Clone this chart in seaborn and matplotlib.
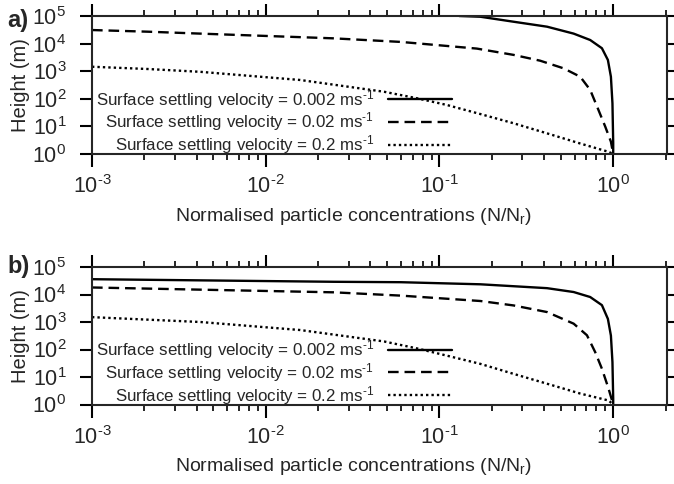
import numpy as np
import pandas as pd
import matplotlib
matplotlib.use("Agg")
import matplotlib.pyplot as plt
from matplotlib.ticker import LogLocator, FuncFormatter, NullLocator
import seaborn as sns

# ---- data: normalised concentration (N/Nr) vs height (m) ----
# panel a
conc_a_slow = [0.13, 0.172, 0.267, 0.416, 0.592, 0.737, 0.861, 0.932, 0.97, 0.99, 1.0, 1.0]
height_a_slow = [1.0e5, 9.4e4, 6.2e4, 4.1e4, 2.3e4, 1.35e4, 6.8e3, 2.55e3, 6.3e2, 69, 2.5, 1.0]

conc_a_mid = [0.001, 0.0021, 0.0042, 0.0246, 0.06, 0.164, 0.267, 0.38, 0.518, 0.646,
              0.737, 0.823, 0.90, 0.97, 1.0]
height_a_mid = [3.1e4, 2.7e4, 2.3e4, 1.55e4, 1.15e4, 6.6e3, 3.9e3, 2.4e3, 1.27e3, 6.3e2,
                2.1e2, 39, 9.8, 2.8, 1.0]

conc_a_fast = [0.001, 0.0021, 0.0042, 0.0158, 0.048, 0.074, 0.11, 0.172, 0.267, 0.416,
               0.646, 0.94, 1.0]
height_a_fast = [1.45e3, 1.2e3, 9.5e2, 4.8e2, 1.8e2, 1.05e2, 60, 28, 13, 5.6,
                 2.4, 1.2, 1.0]

# panel b
conc_b_slow = [0.001, 0.0246, 0.06, 0.172, 0.267, 0.416, 0.592, 0.737, 0.861, 0.932,
               0.97, 0.99, 1.0, 1.0]
height_b_slow = [3.6e4, 2.9e4, 2.8e4, 2.35e4, 2.0e4, 1.7e4, 1.23e4, 8.1e3, 4.1e3, 1.3e3,
                 3.2e2, 35, 1.6, 1.0]

conc_b_mid = [0.001, 0.0042, 0.0246, 0.06, 0.172, 0.267, 0.416, 0.592, 0.706, 0.787,
              0.861, 0.94, 1.0]
height_b_mid = [1.8e4, 1.5e4, 1.2e4, 9.1e3, 5.8e3, 4.0e3, 2.3e3, 8.7e2, 3.3e2, 81,
                20, 3.8, 1.0]

conc_b_fast = [0.001, 0.0042, 0.0158, 0.048, 0.074, 0.11, 0.172, 0.267, 0.416, 0.646,
               0.94, 1.0]
height_b_fast = [1.5e3, 1.0e3, 5.1e2, 1.96e2, 1.1e2, 60, 30, 13, 5.7, 2.5, 1.4, 1.0]

series_labels = [
    r"Surface settling velocity = 0.002 ms$\mathregular{^{\text{-}1}}$",
    r"Surface settling velocity = 0.02 ms$\mathregular{^{\text{-}1}}$",
    r"Surface settling velocity = 0.2 ms$\mathregular{^{\text{-}1}}$",
]
panel_tags = ["a)", "b)"]
x_label = r"Normalised particle concentrations (N/N$\mathregular{_r}$)"
y_label = "Height (m)"

# ---- style ----
sns.set_style("ticks")
plt.rcParams["font.family"] = ["Liberation Sans", "DejaVu Sans"]
plt.rcParams["mathtext.fontset"] = "custom"
plt.rcParams["mathtext.rm"] = "Liberation Sans"
plt.rcParams["mathtext.it"] = "Liberation Sans:italic"
plt.rcParams["mathtext.bf"] = "Liberation Sans:bold"
plt.rcParams["axes.linewidth"] = 1.5

line_styles = ["-", (0, (4.5, 2.5)), (0, (1.0, 1.3))]

fig = plt.figure(figsize=(6.74, 4.84), dpi=100)
ax_a = fig.add_axes([92 / 674, 1 - 154 / 484, 575 / 674, 138 / 484])
ax_b = fig.add_axes([92 / 674, 1 - 404.5 / 484, 575 / 674, 137.5 / 484])

panels = [
    (ax_a, [(conc_a_slow, height_a_slow), (conc_a_mid, height_a_mid), (conc_a_fast, height_a_fast)]),
    (ax_b, [(conc_b_slow, height_b_slow), (conc_b_mid, height_b_mid), (conc_b_fast, height_b_fast)]),
]


def pow_label(v, pos):
    e = int(round(np.log10(v)))
    if e < 0:
        return r"$\mathregular{10^{\text{-}%d}}$" % (-e)
    return r"$\mathregular{10^{%d}}$" % e


pow_fmt = FuncFormatter(pow_label)

for (ax, curves), tag in zip(panels, panel_tags):
    for (xs, ys), ls, lab in zip(curves, line_styles, series_labels):
        df = pd.DataFrame({"conc": xs, "height": ys})
        sns.lineplot(data=df, x="conc", y="height", ax=ax, color="black",
                     linestyle=ls, linewidth=1.7, estimator=None, sort=False,
                     label=lab)
    ax.set_xscale("log")
    ax.set_yscale("log")
    ax.set_xlim(1e-3, 2.04)
    ax.set_ylim(1, 1e5)
    ax.xaxis.set_major_locator(LogLocator(base=10, numticks=10))
    ax.xaxis.set_minor_locator(LogLocator(base=10, subs=np.arange(2, 10), numticks=20))
    ax.yaxis.set_major_locator(LogLocator(base=10, numticks=10))
    ax.yaxis.set_minor_locator(NullLocator())
    ax.xaxis.set_major_formatter(pow_fmt)
    ax.yaxis.set_major_formatter(pow_fmt)
    ax.tick_params(which="both", direction="out", top=True, right=True, color="black")
    ax.tick_params(which="major", length=9, width=1.5, labelsize=15.5)
    ax.tick_params(axis="x", which="major", pad=6.5)
    ax.tick_params(axis="y", which="major", pad=9.5)
    ax.tick_params(which="minor", length=4.5, width=1.2)
    ax.set_xlabel(x_label, fontsize=14)
    ax.set_ylabel(y_label, fontsize=14.5)
    ax.xaxis.set_label_coords(0.455, -0.375)
    ax.yaxis.set_label_coords(-0.108, 0.5)
    for sp in ax.spines.values():
        sp.set_visible(True)
        sp.set_linewidth(1.5)
    leg = ax.legend(loc="lower right", bbox_to_anchor=(0.626, -0.017), markerfirst=False,
                    frameon=False, fontsize=12.2, handlelength=3.8, handletextpad=0.8,
                    labelspacing=0.0, borderpad=0, borderaxespad=0)
    for h in leg.get_lines():
        h.set_linewidth(1.7)

fig.text(7 / 674, 1 - 27 / 484, panel_tags[0], fontsize=17, fontweight="bold", va="baseline")
fig.text(7 / 674, 1 - 273 / 484, panel_tags[1], fontsize=17, fontweight="bold", va="baseline")

fig.savefig("out.png", dpi=100)
